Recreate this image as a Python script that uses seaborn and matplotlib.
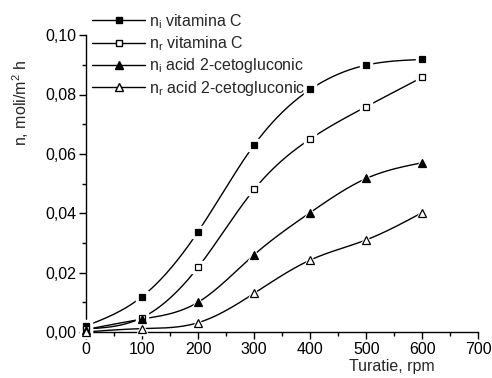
import numpy as np
import pandas as pd
import seaborn as sns
import matplotlib
matplotlib.use("Agg")
import matplotlib.pyplot as plt
from matplotlib.lines import Line2D
from matplotlib.ticker import MultipleLocator, FuncFormatter

# data
rpm = [0, 100, 200, 300, 400, 500, 600]
ni_vitc = [0.0020, 0.0119, 0.0338, 0.0630, 0.0817, 0.0899, 0.0918]
nr_vitc = [0.0010, 0.0048, 0.0218, 0.0480, 0.0650, 0.0759, 0.0858]
ni_acid = [0.0008, 0.0043, 0.0100, 0.0260, 0.0402, 0.0517, 0.0570]
nr_acid = [0.0000, 0.0011, 0.0031, 0.0130, 0.0242, 0.0310, 0.0402]

labels = ["n$_\\mathregular{i}$ vitamina C", "n$_\\mathregular{r}$ vitamina C",
          "n$_\\mathregular{i}$ acid 2-cetogluconic", "n$_\\mathregular{r}$ acid 2-cetogluconic"]
series = [ni_vitc, nr_vitc, ni_acid, nr_acid]
markers = ["s", "s", "^", "^"]
faces = ["black", "white", "black", "white"]
sizes = [5, 5, 5.6, 5.6]


def smooth(x, y, n=300):
    # natural cubic spline through the measured points (drawing only)
    x = np.asarray(x, float)
    y = np.asarray(y, float)
    k = len(x)
    h = np.diff(x)
    A = np.zeros((k, k))
    b = np.zeros(k)
    A[0, 0] = A[-1, -1] = 1
    for i in range(1, k - 1):
        A[i, i - 1] = h[i - 1]
        A[i, i] = 2 * (h[i - 1] + h[i])
        A[i, i + 1] = h[i]
        b[i] = 6 * ((y[i + 1] - y[i]) / h[i] - (y[i] - y[i - 1]) / h[i - 1])
    M = np.linalg.solve(A, b)
    xs = np.linspace(x[0], x[-1], n)
    idx = np.clip(np.searchsorted(x, xs) - 1, 0, k - 2)
    x0, x1 = x[idx], x[idx + 1]
    hh = x1 - x0
    t0, t1 = x1 - xs, xs - x0
    ys = (M[idx] * t0 ** 3 + M[idx + 1] * t1 ** 3) / (6 * hh) \
        + (y[idx] / hh - M[idx] * hh / 6) * t0 + (y[idx + 1] / hh - M[idx + 1] * hh / 6) * t1
    return xs, ys


sns.set_style("ticks")
plt.rcParams["font.family"] = ["Liberation Sans", "DejaVu Sans"]
plt.rcParams["font.size"] = 11.5

fig = plt.figure(figsize=(4.92, 3.78), dpi=100)
ax = fig.add_axes([0.175, 0.122, 0.797, 0.785])

for vals, lab, m, fc, ms in zip(series, labels, markers, faces, sizes):
    xs, ys = smooth(rpm, vals)
    curve = pd.DataFrame({"rpm": xs, "n": ys})
    pts = pd.DataFrame({"rpm": rpm, "n": vals})
    sns.lineplot(data=curve, x="rpm", y="n", ax=ax, color="black", lw=1.0, zorder=2)
    # white halo round markers, like the gaps in the original
    ax.plot(pts["rpm"], pts["n"], ls="none", marker=m, ms=ms + 3, mfc="white", mec="white",
            zorder=3, clip_on=False)
    ax.plot(pts["rpm"], pts["n"], ls="none", marker=m, ms=ms, mfc=fc, mec="black",
            mew=0.9, zorder=4, clip_on=False)

ax.set_xlim(0, 700)
ax.set_ylim(0, 0.10)
ax.xaxis.set_major_locator(MultipleLocator(100))
ax.xaxis.set_minor_locator(MultipleLocator(50))
ax.yaxis.set_major_locator(MultipleLocator(0.02))
ax.yaxis.set_minor_locator(MultipleLocator(0.01))
ax.yaxis.set_major_formatter(FuncFormatter(lambda v, p: f"{v:.2f}".replace(".", ",")))
ax.tick_params(which="major", length=5, width=1, direction="out", color="black",
               labelsize=11.5, labelcolor="black", pad=2)
ax.tick_params(which="minor", length=3, width=1, direction="out", color="black")
for s in ["top", "right"]:
    ax.spines[s].set_visible(False)
for s in ["left", "bottom"]:
    ax.spines[s].set_color("black")
    ax.spines[s].set_linewidth(1.0)

ax.set_xlabel("Turatie, rpm", fontsize=11.5, loc="right")
ax.set_ylabel("n, moli/m$^\\mathregular{2}$ h", fontsize=11.5)
ax.xaxis.set_label_coords(0.89, -0.09)
ax.yaxis.set_label_coords(-0.14, 0.77)

handles = [Line2D([], [], color="black", lw=1.0, marker=m, ms=ms, mfc=fc, mec="black")
           for m, fc, ms in zip(markers, faces, sizes)]
fig.legend(handles, labels, loc="upper left", bbox_to_anchor=(0.175, 0.985),
           frameon=False, fontsize=11.5, handlelength=3.3, handletextpad=0.25,
           labelspacing=0.22, borderaxespad=0)

fig.savefig("out.png", dpi=100)
